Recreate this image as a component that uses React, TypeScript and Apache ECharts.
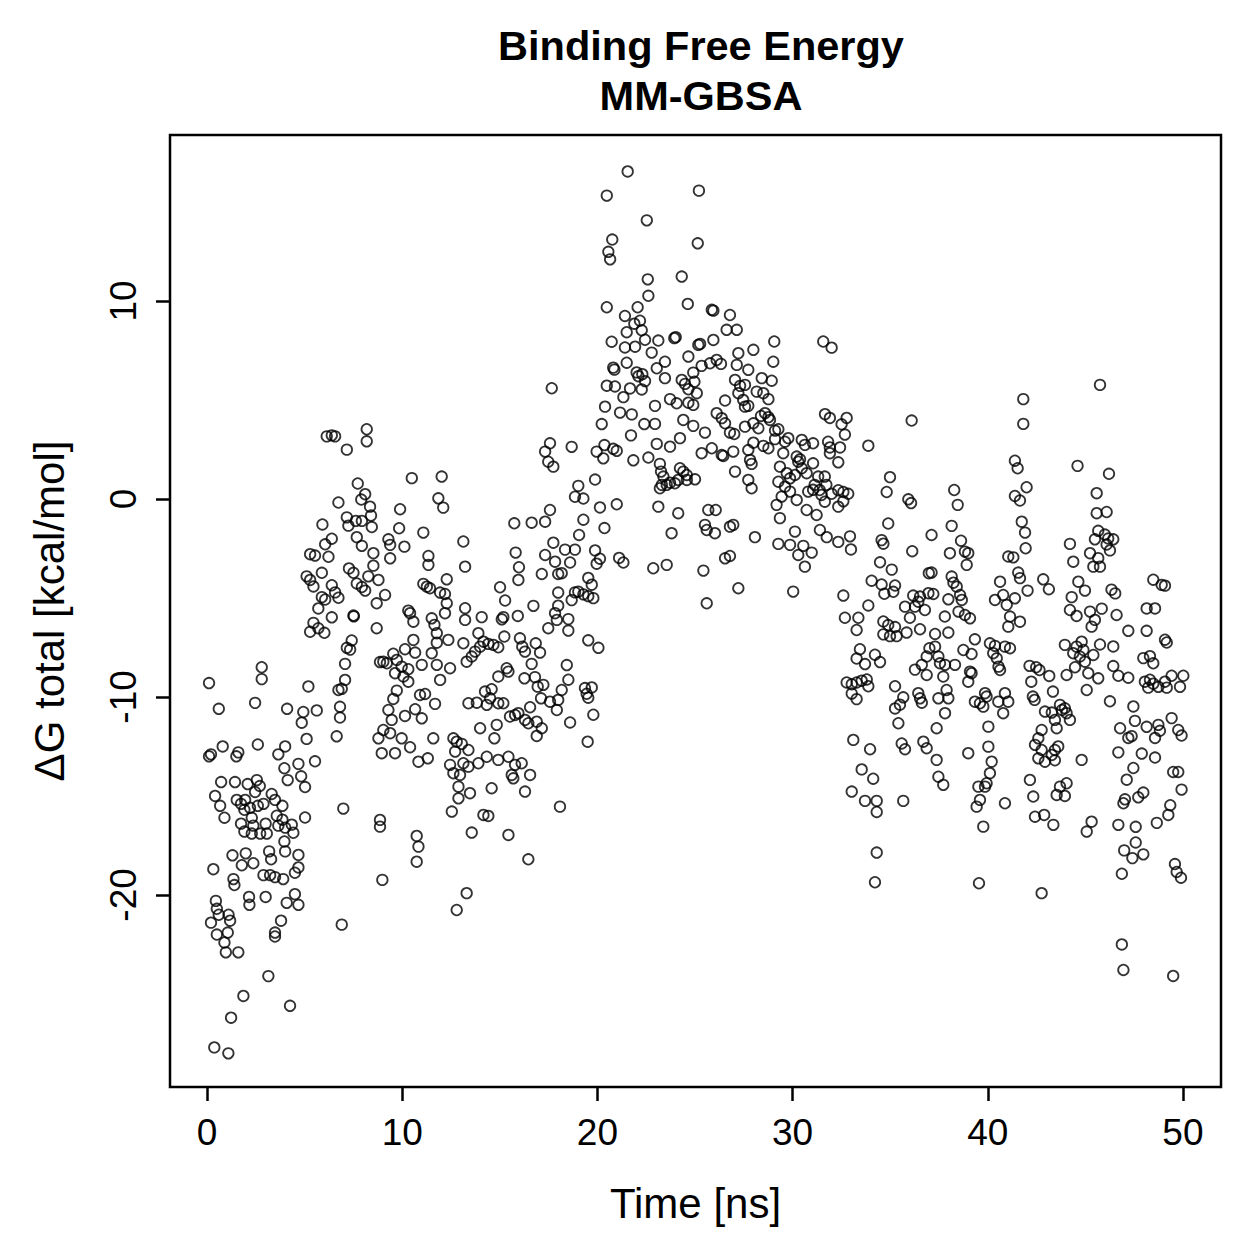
import React, { useEffect, useRef } from "react";
import * as echarts from "echarts";

const titleLines = ["Binding Free Energy", "MM-GBSA"];
const xAxisName = "Time [ns]";
const yAxisName = "ΔG total [kcal/mol]";
const xTicks = [0, 10, 20, 30, 40, 50];
const yTicks = [-20, -10, 0, 10];

// [time (ns), ΔG total (kcal/mol)], grouped by time window
const pts0to4 = [[2.8,-8.5],[2.8,-9.1],[0.1,-9.3],[2.46,-10.3],[0.6,-10.6],[4.1,-10.6],[2.6,-12.4],[0.8,-12.5],[0.1,-13.0],[0.2,-12.9],[1.5,-13.0],[1.6,-12.8],[3.65,-12.9],[4.0,-12.5],[3.96,-13.6],[4.13,-14.2],[0.72,-14.3],[1.43,-14.3],[2.08,-14.4],[2.55,-14.2],[2.7,-14.5],[2.46,-14.8],[0.41,-15.0],[0.67,-15.5],[0.89,-16.1],[1.52,-15.2],[1.74,-15.4],[1.95,-15.2],[2.2,-15.6],[1.91,-15.7],[2.6,-15.5],[2.89,-15.4],[3.31,-14.9],[3.48,-15.2],[3.86,-15.5],[2.29,-16.1],[2.37,-16.5],[1.74,-16.4],[1.91,-16.8],[2.29,-16.9],[2.72,-16.9],[3.06,-16.9],[3.0,-16.4],[3.57,-16.0],[3.86,-16.2],[3.65,-16.5],[4.0,-16.6],[3.96,-17.3],[1.3,-18.0],[1.98,-17.9],[1.78,-18.5],[2.37,-18.4],[3.18,-17.8],[3.28,-18.2],[0.32,-18.7],[1.35,-19.2],[1.4,-19.5],[2.89,-19.0],[3.23,-19.0],[3.48,-19.1],[3.9,-19.2],[3.0,-20.1],[2.15,-20.1],[2.17,-20.5],[0.45,-20.3],[0.5,-20.7],[0.6,-21.0],[0.2,-21.4],[1.1,-21.0],[1.18,-21.3],[1.06,-21.9],[0.5,-22.0],[0.89,-22.4],[0.96,-22.9],[1.6,-22.9],[3.79,-21.3],[3.48,-21.9],[3.48,-22.1],[3.14,-24.1],[1.86,-25.1],[1.23,-26.2],[4.25,-25.6],[0.37,-27.7],[1.09,-28.0]];

const pts4to9 = [[6.13,3.16],[6.39,3.21],[6.56,3.16],[8.18,3.52],[8.18,2.91],[7.16,2.49],[7.72,0.78],[8.1,0.24],[7.9,-0.03],[8.35,-0.39],[8.4,-0.84],[6.73,-0.18],[7.16,-0.93],[7.24,-1.35],[7.62,-1.11],[7.93,-1.11],[8.44,-1.42],[5.91,-1.29],[7.67,-1.93],[7.93,-2.37],[8.52,-2.74],[8.52,-3.37],[8.26,-3.91],[6.39,-2.01],[6.05,-2.29],[6.22,-2.92],[5.28,-2.79],[5.53,-2.86],[7.27,-3.51],[7.5,-3.73],[5.88,-3.73],[5.1,-3.91],[5.28,-4.09],[5.45,-4.42],[6.39,-4.36],[6.56,-4.72],[6.73,-4.99],[7.67,-4.27],[7.93,-4.45],[8.1,-4.63],[5.88,-4.96],[6.05,-5.08],[5.7,-5.53],[6.39,-5.98],[7.5,-5.89],[7.52,-5.93],[5.45,-6.26],[5.28,-6.71],[5.7,-6.53],[6.01,-6.76],[7.41,-7.15],[7.16,-7.52],[7.33,-7.61],[7.07,-8.33],[8.86,-8.24],[7.07,-9.14],[6.73,-9.65],[6.9,-9.59],[5.19,-9.47],[6.81,-10.5],[6.81,-11.04],[4.93,-10.76],[4.85,-11.3],[5.62,-10.68],[6.64,-11.99],[5.1,-12.12],[4.68,-13.38],[4.82,-14.01],[5.02,-14.55],[5.53,-13.25],[6.98,-15.64],[5.02,-16.09],[4.34,-16.45],[4.42,-16.86],[4.68,-17.98],[4.68,-18.61],[4.5,-18.88],[4.0,-17.8],[4.5,-19.96],[4.68,-20.5],[4.08,-20.4],[6.9,-21.5]];

const pts9to13 = [[10.49,1.05],[12.02,1.13],[11.85,0.03],[12.1,-0.44],[9.89,-0.52],[9.84,-1.48],[11.08,-1.7],[9.29,-2.04],[9.38,-2.32],[10.11,-2.41],[9.38,-3.0],[13.13,-2.15],[11.34,-2.88],[11.34,-3.33],[13.22,-3.42],[8.78,-4.09],[9.12,-4.85],[8.69,-5.27],[12.28,-4.06],[11.08,-4.29],[11.26,-4.43],[11.42,-4.51],[11.94,-4.73],[12.19,-4.8],[12.28,-5.27],[12.19,-5.77],[10.31,-5.64],[10.4,-5.77],[10.57,-6.2],[11.51,-6.03],[11.65,-6.36],[11.77,-6.78],[11.77,-7.26],[11.51,-7.79],[13.22,-5.52],[13.22,-6.11],[8.69,-6.53],[10.57,-7.12],[12.36,-7.12],[13.13,-7.29],[13.3,-8.22],[9.54,-7.82],[9.03,-8.22],[9.21,-8.3],[9.72,-8.13],[9.63,-8.8],[9.97,-8.47],[10.31,-8.6],[10.14,-7.59],[10.66,-7.76],[11.0,-8.38],[11.77,-8.38],[12.45,-8.55],[10.06,-8.97],[10.31,-9.23],[11.94,-9.14],[9.72,-9.68],[9.54,-10.1],[9.29,-10.66],[9.46,-11.16],[9.03,-11.67],[8.78,-12.09],[8.95,-12.84],[10.91,-9.9],[11.17,-9.85],[11.68,-10.35],[10.66,-10.62],[10.14,-10.96],[11.0,-11.08],[13.39,-10.32],[9.38,-11.83],[9.97,-12.09],[10.4,-12.54],[9.63,-12.84],[11.59,-12.09],[12.62,-12.09],[12.79,-12.26],[13.05,-12.37],[12.71,-12.76],[13.13,-13.35],[12.96,-13.94],[12.88,-14.53],[12.88,-15.12],[12.45,-13.43],[12.62,-13.85],[10.83,-13.27],[11.31,-13.1],[13.39,-12.68],[13.47,-14.86],[12.54,-15.79],[8.86,-16.21],[8.86,-16.55],[10.74,-17.02],[10.83,-17.56],[10.74,-18.32],[8.98,-19.24],[13.3,-19.91],[12.79,-20.76]];

const pts13to18 = [[17.66,5.59],[17.57,2.81],[17.32,2.39],[17.48,1.88],[17.74,1.63],[17.57,-0.56],[17.32,-1.15],[15.74,-1.23],[16.63,-1.2],[17.74,-2.21],[17.32,-2.83],[17.83,-3.17],[17.15,-3.79],[17.99,-3.79],[15.81,-2.71],[15.98,-3.45],[15.95,-4.09],[15.01,-4.46],[15.27,-5.13],[17.99,-4.73],[17.83,-5.77],[17.48,-6.53],[16.72,-5.4],[14.07,-5.97],[15.1,-6.08],[15.18,-5.97],[15.92,-5.91],[13.9,-6.78],[14.16,-7.21],[14.41,-7.32],[14.67,-7.37],[14.92,-7.49],[13.99,-7.46],[13.73,-7.71],[13.56,-7.96],[15.23,-6.95],[16.03,-7.04],[16.15,-7.46],[16.29,-7.71],[16.84,-7.29],[17.06,-7.76],[17.92,-6.11],[16.63,-8.33],[15.35,-8.55],[15.44,-8.72],[14.92,-8.97],[16.26,-9.06],[16.8,-9.0],[16.94,-9.48],[17.23,-9.39],[17.11,-10.07],[17.57,-10.24],[17.99,-10.15],[17.92,-10.66],[14.24,-9.73],[14.58,-9.61],[14.5,-10.07],[14.92,-10.32],[15.18,-10.32],[13.82,-10.29],[14.33,-10.4],[16.55,-10.52],[15.52,-10.99],[15.78,-10.91],[15.95,-10.82],[16.29,-11.16],[16.46,-11.33],[16.89,-11.25],[17.15,-11.58],[16.89,-11.97],[13.99,-11.58],[14.84,-11.41],[14.72,-12.09],[13.39,-13.52],[13.9,-13.35],[14.33,-13.02],[14.92,-13.18],[15.44,-13.02],[15.78,-13.43],[15.61,-13.94],[15.69,-14.11],[16.12,-13.35],[16.55,-13.94],[14.58,-14.61],[16.29,-14.78],[14.16,-15.96],[14.41,-16.01],[13.56,-16.85],[15.44,-16.97],[16.46,-18.2],[18.08,-15.54]];

const pts18to22 = [[21.55,16.54],[20.48,15.32],[22.53,14.07],[20.76,13.1],[20.56,12.48],[20.65,12.1],[22.58,11.09],[22.61,10.26],[20.48,9.68],[22.06,9.68],[21.41,9.24],[21.89,8.85],[22.18,9.0],[22.27,8.52],[21.5,8.42],[20.73,7.94],[21.41,7.65],[21.93,7.69],[22.44,8.04],[20.81,6.63],[20.87,6.53],[21.5,6.88],[22.01,6.39],[22.1,6.2],[22.3,6.3],[22.44,5.95],[22.27,5.53],[20.48,5.72],[20.9,5.68],[21.67,5.58],[21.33,5.14],[20.39,4.66],[21.16,4.36],[21.76,4.27],[20.22,3.78],[22.4,3.78],[21.72,3.21],[20.36,2.72],[19.96,2.39],[20.3,2.05],[20.81,2.53],[20.99,2.43],[21.84,1.95],[22.61,2.09],[18.68,2.63],[19.88,0.98],[19.02,0.66],[18.85,0.11],[19.28,0.02],[20.13,-0.43],[20.99,-0.27],[19.28,-1.05],[20.36,-1.47],[19.06,-1.82],[18.34,-2.56],[18.85,-2.56],[18.6,-3.21],[18.17,-3.75],[19.88,-2.6],[20.13,-3.02],[19.96,-3.27],[21.11,-2.98],[21.33,-3.21],[19.53,-3.99],[19.71,-4.33],[18.85,-4.72],[19.02,-4.68],[19.28,-4.82],[19.53,-4.91],[19.79,-5.01],[17.99,-5.39],[18.51,-6.07],[18.68,-5.11],[18.51,-6.65],[19.53,-7.14],[20.05,-7.52],[18.43,-8.39],[18.51,-9.13],[18.17,-9.65],[19.36,-9.55],[19.71,-9.52],[19.53,-10.04],[19.45,-9.84],[18.6,-11.29],[19.79,-10.9],[19.5,-12.26]];

const pts22to27 = [[25.2,15.57],[25.14,12.91],[24.32,11.23],[24.63,9.85],[25.86,9.55],[25.94,9.51],[26.79,9.29],[26.62,8.54],[27.14,8.54],[23.12,8.0],[23.94,8.12],[24.01,8.17],[25.17,7.78],[25.26,7.83],[25.94,8.03],[22.78,7.39],[23.46,6.93],[23.04,6.6],[24.66,7.19],[25.34,6.72],[25.77,6.85],[26.11,7.02],[26.33,6.82],[27.22,7.36],[27.14,6.77],[27.05,6.01],[27.22,5.34],[24.91,6.38],[24.32,6.01],[24.49,5.81],[24.66,5.54],[24.97,5.92],[25.09,5.34],[23.46,6.1],[23.72,5.04],[24.06,4.83],[24.66,4.86],[24.91,4.75],[22.95,4.7],[26.54,4.97],[26.11,4.33],[26.37,4.08],[26.54,3.82],[22.95,3.79],[24.4,3.99],[24.91,3.69],[25.51,3.35],[26.79,3.35],[27.01,3.28],[23.04,2.78],[23.72,2.64],[24.23,3.07],[25.86,2.56],[26.37,2.22],[26.45,2.17],[25.34,2.31],[26.96,2.39],[23.2,1.77],[23.26,1.38],[23.38,1.13],[23.3,0.71],[23.2,0.54],[23.55,0.71],[23.72,0.82],[23.97,0.79],[24.14,0.96],[24.23,1.55],[24.4,1.38],[24.58,1.21],[25.0,0.99],[24.58,0.96],[23.12,-0.39],[24.14,-0.72],[23.8,-1.73],[25.68,-0.56],[26.06,-0.56],[25.51,-1.31],[25.6,-1.57],[26.02,-1.73],[26.79,-1.4],[26.96,-1.31],[22.86,-3.5],[23.55,-3.33],[25.43,-3.62],[26.54,-3.0],[26.79,-2.88],[27.22,-4.51],[25.6,-5.27]];

const pts27to32 = [[29.06,7.95],[31.57,7.95],[27.99,7.53],[27.73,6.52],[29.01,6.93],[28.42,6.1],[28.93,5.97],[27.56,5.76],[27.31,5.71],[28.16,5.42],[28.5,5.34],[28.76,5.04],[27.47,5.0],[27.56,4.66],[27.73,4.7],[28.59,4.33],[28.76,4.13],[28.84,3.99],[28.38,4.19],[27.99,3.82],[28.25,3.57],[27.56,3.65],[29.1,3.45],[29.27,3.52],[27.99,2.84],[28.5,2.68],[28.76,2.56],[29.1,3.02],[29.61,2.89],[29.78,3.07],[30.47,2.98],[30.63,2.73],[27.73,2.47],[29.52,2.31],[30.21,2.14],[30.38,2.0],[31.05,2.81],[31.82,2.89],[31.91,2.31],[27.82,1.97],[27.9,1.77],[27.05,1.38],[27.73,0.96],[27.9,0.54],[29.35,1.63],[29.7,1.3],[29.87,1.04],[30.12,1.21],[30.29,1.88],[30.47,1.55],[30.72,1.3],[31.05,1.8],[31.31,1.13],[31.65,1.13],[31.73,0.71],[31.13,0.71],[31.05,0.46],[31.48,0.2],[30.8,0.37],[29.27,0.87],[29.61,0.62],[29.87,0.37],[29.44,0.12],[29.18,-0.3],[29.35,-0.97],[30.21,-0.05],[30.72,-0.56],[31.23,-0.81],[31.65,-0.14],[31.39,0.45],[28.07,-1.93],[29.27,-2.27],[29.87,-2.32],[30.12,-1.65],[30.55,-2.37],[30.98,-2.71],[30.29,-2.83],[30.63,-3.42],[31.4,-1.57],[31.75,-1.93],[30.03,-4.68]];

const pts32to36 = [[32.0,7.64],[31.66,4.28],[31.91,4.09],[32.51,3.77],[32.77,4.09],[32.68,3.25],[31.91,2.6],[32.43,2.6],[32.34,1.85],[33.88,2.69],[36.1,3.96],[32.0,0.26],[32.34,0.44],[32.6,0.35],[32.85,0.26],[32.34,-0.39],[32.6,-0.12],[34.99,1.1],[34.82,0.35],[35.93,-0.02],[36.07,-0.21],[32.34,-2.17],[32.94,-1.89],[32.99,-2.55],[34.9,-1.24],[34.56,-2.08],[34.65,-2.26],[36.13,-2.64],[34.48,-3.2],[35.08,-3.57],[34.05,-4.13],[34.56,-4.32],[34.7,-4.79],[35.25,-4.37],[35.16,-4.69],[32.6,-4.88],[33.88,-5.38],[32.68,-6.0],[33.37,-6.0],[33.28,-6.62],[34.65,-6.19],[34.9,-6.37],[35.25,-6.47],[34.65,-6.84],[34.99,-6.93],[35.33,-6.93],[35.84,-6.75],[36.01,-6.0],[35.76,-5.44],[36.18,-4.88],[36.27,-5.44],[33.45,-7.59],[33.28,-8.06],[33.71,-8.34],[34.22,-7.87],[34.48,-8.24],[32.77,-9.27],[33.03,-9.36],[33.28,-9.27],[33.54,-9.18],[33.8,-9.12],[33.88,-9.46],[33.03,-9.83],[33.28,-10.11],[35.25,-9.46],[35.67,-10.02],[35.5,-10.39],[35.25,-10.58],[35.42,-11.33],[36.27,-8.62],[33.11,-12.17],[33.97,-12.64],[33.54,-13.66],[34.13,-14.13],[33.03,-14.78],[33.71,-15.25],[34.31,-15.25],[34.31,-15.81],[35.59,-12.35],[35.76,-12.64],[35.67,-15.25],[34.31,-17.86],[34.22,-19.36]];

const pts36to41 = [[38.28,0.45],[38.46,-0.3],[38.15,-1.36],[37.12,-1.82],[38.63,-2.11],[38.83,-2.66],[39.0,-2.74],[38.06,-2.74],[38.92,-3.33],[41.05,-2.91],[36.98,-3.75],[37.12,-3.72],[38.15,-3.92],[38.24,-4.23],[38.41,-4.43],[36.53,-4.93],[36.96,-4.76],[37.21,-4.8],[37.98,-5.07],[38.58,-4.85],[38.67,-5.1],[38.5,-5.69],[38.83,-5.86],[39.09,-6.03],[37.8,-5.94],[36.78,-5.61],[36.44,-5.19],[40.63,-4.18],[40.37,-5.1],[40.79,-4.85],[40.97,-5.35],[41.14,-5.94],[41.05,-6.45],[36.53,-6.58],[37.3,-6.82],[37.98,-6.75],[39.34,-7.09],[37.01,-7.54],[37.3,-7.46],[36.87,-7.96],[36.62,-8.38],[36.87,-8.89],[37.47,-7.96],[37.55,-8.3],[37.81,-8.38],[37.72,-8.97],[38.32,-8.38],[38.75,-7.63],[39.17,-7.83],[39.09,-8.72],[39.17,-8.8],[39.0,-9.23],[40.11,-7.29],[40.37,-7.42],[40.28,-7.79],[40.46,-8.05],[40.63,-8.64],[40.55,-8.47],[40.88,-7.46],[41.14,-7.54],[36.44,-9.81],[36.53,-10.07],[36.62,-10.29],[37.47,-10.07],[37.89,-9.65],[37.98,-10.07],[37.81,-10.82],[37.38,-11.58],[39.34,-10.24],[39.6,-10.32],[39.86,-9.81],[39.77,-10.49],[39.94,-9.98],[40.54,-10.24],[40.88,-9.81],[40.79,-10.82],[41.05,-10.24],[40.03,-11.5],[40.03,-12.51],[40.2,-13.27],[40.11,-13.85],[39.94,-14.36],[39.86,-14.53],[39.52,-14.53],[39.6,-15.2],[39.43,-15.54],[36.7,-12.26],[36.87,-12.59],[37.38,-13.18],[37.47,-14.03],[37.72,-14.44],[39.0,-12.84],[40.88,-15.37],[39.77,-16.55],[39.55,-19.41]];

const pts41to45 = [[45.75,5.76],[41.82,5.04],[41.82,3.79],[41.39,1.93],[41.53,1.55],[44.6,1.67],[41.99,0.59],[41.39,0.15],[41.65,-0.08],[41.74,-1.15],[41.91,-1.7],[41.94,-2.49],[41.31,-2.95],[41.56,-3.72],[41.65,-4.0],[41.39,-5.02],[42.04,-4.63],[41.65,-6.2],[42.84,-4.06],[43.13,-4.56],[44.21,-2.27],[44.38,-3.17],[44.64,-4.18],[44.98,-4.63],[44.3,-4.96],[44.21,-5.61],[44.55,-5.91],[45.24,-5.69],[45.32,-6.45],[45.49,-6.11],[45.58,0.29],[45.58,-0.72],[45.49,-2.04],[45.24,-2.74],[45.41,-3.42],[45.75,-3.42],[42.14,-8.43],[42.48,-8.5],[42.65,-8.64],[43.15,-8.94],[42.23,-9.23],[42.31,-9.98],[42.4,-10.15],[43.95,-7.37],[44.38,-7.79],[44.55,-7.46],[44.81,-7.21],[44.9,-7.63],[44.72,-7.96],[45.41,-7.88],[44.98,-8.22],[44.47,-8.5],[44.04,-8.89],[45.15,-8.8],[45.07,-9.65],[45.66,-9.06],[43.34,-9.73],[42.93,-10.74],[43.28,-10.79],[43.7,-10.4],[43.95,-10.57],[43.8,-10.66],[44.04,-10.82],[44.21,-11.16],[43.44,-11.16],[43.53,-11.58],[42.76,-11.67],[42.59,-12.09],[42.42,-12.42],[42.76,-12.68],[42.59,-13.1],[42.93,-13.27],[43.28,-12.93],[43.44,-12.68],[43.61,-12.5],[43.44,-13.2],[44.81,-13.18],[42.16,-14.19],[42.33,-15.03],[43.7,-14.53],[44.04,-14.36],[43.53,-14.95],[43.95,-15.0],[42.42,-16.05],[42.89,-15.96],[43.36,-16.46],[45.32,-16.3],[45.07,-16.8],[42.76,-19.91]];

const pts46to50 = [[46.21,1.27],[46.09,-0.66],[46.0,-1.8],[46.17,-2.0],[46.43,-2.04],[46.09,-2.3],[46.26,-2.6],[45.66,-1.61],[45.66,-2.99],[46.34,-4.58],[46.53,-4.77],[48.48,-4.08],[48.91,-4.34],[49.08,-4.38],[45.84,-5.54],[46.6,-5.86],[48.14,-5.53],[48.57,-5.53],[47.2,-6.66],[48.14,-6.66],[49.08,-7.11],[49.17,-7.25],[46.43,-7.45],[45.75,-7.35],[47.97,-8.04],[48.31,-7.94],[48.48,-8.3],[46.43,-8.44],[46.69,-8.93],[47.2,-9.03],[48.05,-9.23],[48.31,-9.13],[48.48,-9.33],[48.22,-9.53],[48.74,-9.49],[49.08,-9.23],[49.17,-9.53],[49.42,-8.93],[49.85,-9.49],[50.02,-8.93],[46.26,-10.22],[47.46,-10.48],[47.54,-11.21],[48.14,-11.51],[48.74,-11.41],[48.82,-11.71],[49.42,-11.07],[49.76,-11.67],[49.93,-11.95],[46.78,-11.58],[47.2,-12.07],[47.37,-11.98],[48.57,-12.07],[46.69,-12.8],[47.89,-12.86],[48.57,-13.06],[47.46,-13.59],[47.12,-14.18],[49.5,-13.79],[49.76,-13.79],[49.93,-14.68],[47.97,-14.83],[47.71,-15.07],[47.03,-15.17],[46.95,-15.37],[49.35,-15.47],[49.25,-15.96],[46.69,-16.46],[47.58,-16.56],[48.66,-16.36],[47.58,-17.35],[46.99,-17.75],[47.41,-18.14],[47.97,-17.95],[46.87,-18.93],[49.59,-18.44],[49.68,-18.84],[49.9,-19.13],[46.87,-22.5],[46.95,-23.79],[49.5,-24.09]];

const allPoints = [
  ...pts0to4, ...pts4to9, ...pts9to13, ...pts13to18, ...pts18to22, ...pts22to27,
  ...pts27to32, ...pts32to36, ...pts36to41, ...pts41to45, ...pts46to50,
];

const FONT = "'Liberation Sans', Arial, Helvetica, sans-serif";

export default function App() {
  const ref = useRef<HTMLDivElement>(null);
  useEffect(() => {
    if (!ref.current) return;
    const chart = echarts.init(ref.current, null, { renderer: "svg" });
    chart.setOption({
      animation: false,
      backgroundColor: "#ffffff",
      title: {
        text: titleLines.join("\n"),
        left: 696,
        top: 15,
        textAlign: "center",
        textStyle: { fontSize: 41.5, fontWeight: "bold", color: "#000", fontFamily: FONT, lineHeight: 50 },
      },
      grid: { left: 170, top: 135, width: 1051, height: 952, show: true, borderColor: "#000", borderWidth: 2.5, backgroundColor: "transparent" },
      xAxis: {
        type: "value",
        min: -1.9,
        max: 51.95,
        splitLine: { show: false },
        axisLine: { show: false, onZero: false },
        axisTick: { show: true, customValues: xTicks, length: 14, lineStyle: { color: "#000", width: 2.5 } },
        axisLabel: { customValues: xTicks, fontSize: 37, color: "#000", fontFamily: FONT, margin: 27 },
        name: xAxisName,
        nameLocation: "middle",
        nameGap: 95,
        nameTextStyle: { fontSize: 42, color: "#000", fontFamily: FONT },
      },
      yAxis: {
        type: "value",
        min: -29.7,
        max: 18.38,
        splitLine: { show: false },
        axisLine: { show: false, onZero: false },
        axisTick: { show: true, customValues: yTicks, length: 14, lineStyle: { color: "#000", width: 2.5 } },
        axisLabel: { customValues: yTicks, rotate: 90, fontSize: 37, color: "#000", fontFamily: FONT, margin: 28 },
        name: yAxisName,
        nameLocation: "middle",
        nameRotate: 90,
        nameGap: 100,
        nameTextStyle: { fontSize: 42, color: "#000", fontFamily: FONT },
      },
      series: [
        {
          type: "scatter",
          data: allPoints,
          symbol: "circle",
          symbolSize: 10.5,
          silent: true,
          itemStyle: { color: "rgba(0,0,0,0)", borderColor: "#000", borderWidth: 1.8 },
        },
      ],
    });
    return () => chart.dispose();
  }, []);
  return <div ref={ref} style={{ position: "fixed", left: 0, top: 0, width: 1259, height: 1259 }} />;
}
